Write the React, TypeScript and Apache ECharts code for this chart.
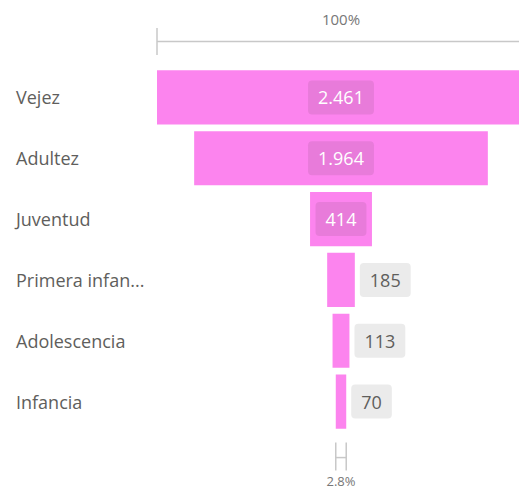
import React, { useEffect, useRef } from 'react';
import * as echarts from 'echarts';

const categories = ['Vejez', 'Adultez', 'Juventud', 'Primera infancia', 'Adolescencia', 'Infancia'];
const values = [2461, 1964, 414, 185, 113, 70];
const scaleLabels = ['100%', '2.8%'];

const FONT = "'Segoe UI', 'Open Sans', sans-serif";
const BAR = '#fc84ee';
const INNER_BOX = '#e87bda';
const OUTER_BOX = '#ebebeb';
const TEXT = '#605e5c';

function fmt(v: number): string {
  return String(v).replace(/\B(?=(\d{3})+(?!\d))/g, '.');
}

function truncate(s: string): string {
  return s.length > 14 ? s.slice(0, 13) + '...' : s;
}

export default function App() {
  const ref = useRef<HTMLDivElement>(null);
  useEffect(() => {
    if (!ref.current) return;
    const chart = echarts.init(ref.current, undefined, { renderer: 'svg' });
    const maxV = Math.max(...values);
    const offsets = values.map((v) => (maxV - v) / 2);
    chart.setOption({
      animation: false,
      grid: { left: 157, right: 0, top: 67, bottom: 57 },
      xAxis: { type: 'value', min: 0, max: maxV, show: false },
      yAxis: {
        type: 'category',
        data: categories,
        inverse: true,
        axisLine: { show: false },
        axisTick: { show: false },
        splitLine: { show: false },
        axisLabel: {
          align: 'left',
          margin: 141,
          fontSize: 18,
          color: TEXT,
          fontFamily: FONT,
          formatter: (s: string) => truncate(s),
        },
      },
      series: [
        {
          type: 'bar',
          stack: 'f',
          silent: true,
          barCategoryGap: '11%',
          itemStyle: { color: 'transparent' },
          data: offsets,
        },
        {
          type: 'bar',
          stack: 'f',
          barCategoryGap: '11%',
          itemStyle: { color: BAR },
          data: values.map((v) => {
            const inside = v / maxV > 0.12;
            return {
              value: v,
              label: inside
                ? {
                    show: true,
                    position: 'inside',
                    formatter: () => fmt(v),
                    color: '#ffffff',
                    fontSize: 18,
                    fontFamily: FONT,
                    backgroundColor: INNER_BOX,
                    borderRadius: 4,
                    padding: [8, 10, 8, 10],
                  }
                : {
                    show: true,
                    position: 'right',
                    distance: 5,
                    formatter: () => fmt(v),
                    color: TEXT,
                    fontSize: 18,
                    fontFamily: FONT,
                    backgroundColor: OUTER_BOX,
                    borderRadius: 4,
                    padding: [8, 10, 8, 10],
                  },
            };
          }),
        },
      ],
    });

    const xOf = (v: number) => chart.convertToPixel({ xAxisIndex: 0 }, v) as number;
    const yOf = (c: string) => chart.convertToPixel({ yAxisIndex: 0 }, c) as number;
    const x0 = xOf(0);
    const x1 = xOf(maxV);
    const xc = (x0 + x1) / 2;
    const last = values.length - 1;
    const lx = xOf(offsets[last]);
    const rx = xOf(offsets[last] + values[last]);
    const ly = yOf(categories[last]);
    const lineStyle = { stroke: '#c8c8c8', lineWidth: 1.5 };
    chart.setOption({
      graphic: [
        { type: 'line', shape: { x1: x0, y1: 41.5, x2: x1, y2: 41.5 }, style: lineStyle, silent: true },
        { type: 'line', shape: { x1: x0, y1: 28, x2: x0, y2: 55 }, style: lineStyle, silent: true },
        {
          type: 'text',
          x: xc,
          y: 18.5,
          style: { text: scaleLabels[0], fill: '#777777', font: `15px ${FONT}`, align: 'center', verticalAlign: 'middle' },
          silent: true,
        },
        { type: 'line', shape: { x1: lx, y1: ly + 41, x2: lx, y2: ly + 69 }, style: lineStyle, silent: true },
        { type: 'line', shape: { x1: rx, y1: ly + 41, x2: rx, y2: ly + 69 }, style: lineStyle, silent: true },
        { type: 'line', shape: { x1: lx, y1: ly + 56, x2: rx, y2: ly + 56 }, style: lineStyle, silent: true },
        {
          type: 'text',
          x: (lx + rx) / 2,
          y: ly + 79,
          style: { text: scaleLabels[1], fill: '#777777', font: `13px ${FONT}`, align: 'center', verticalAlign: 'middle' },
          silent: true,
        },
      ],
    });
    return () => chart.dispose();
  }, []);
  return (
    <div style={{ position: 'fixed', left: 0, top: 0, width: 519, height: 489, overflow: 'hidden', background: '#ffffff' }}>
      <div ref={ref} style={{ width: 525, height: 489 }} />
    </div>
  );
}
